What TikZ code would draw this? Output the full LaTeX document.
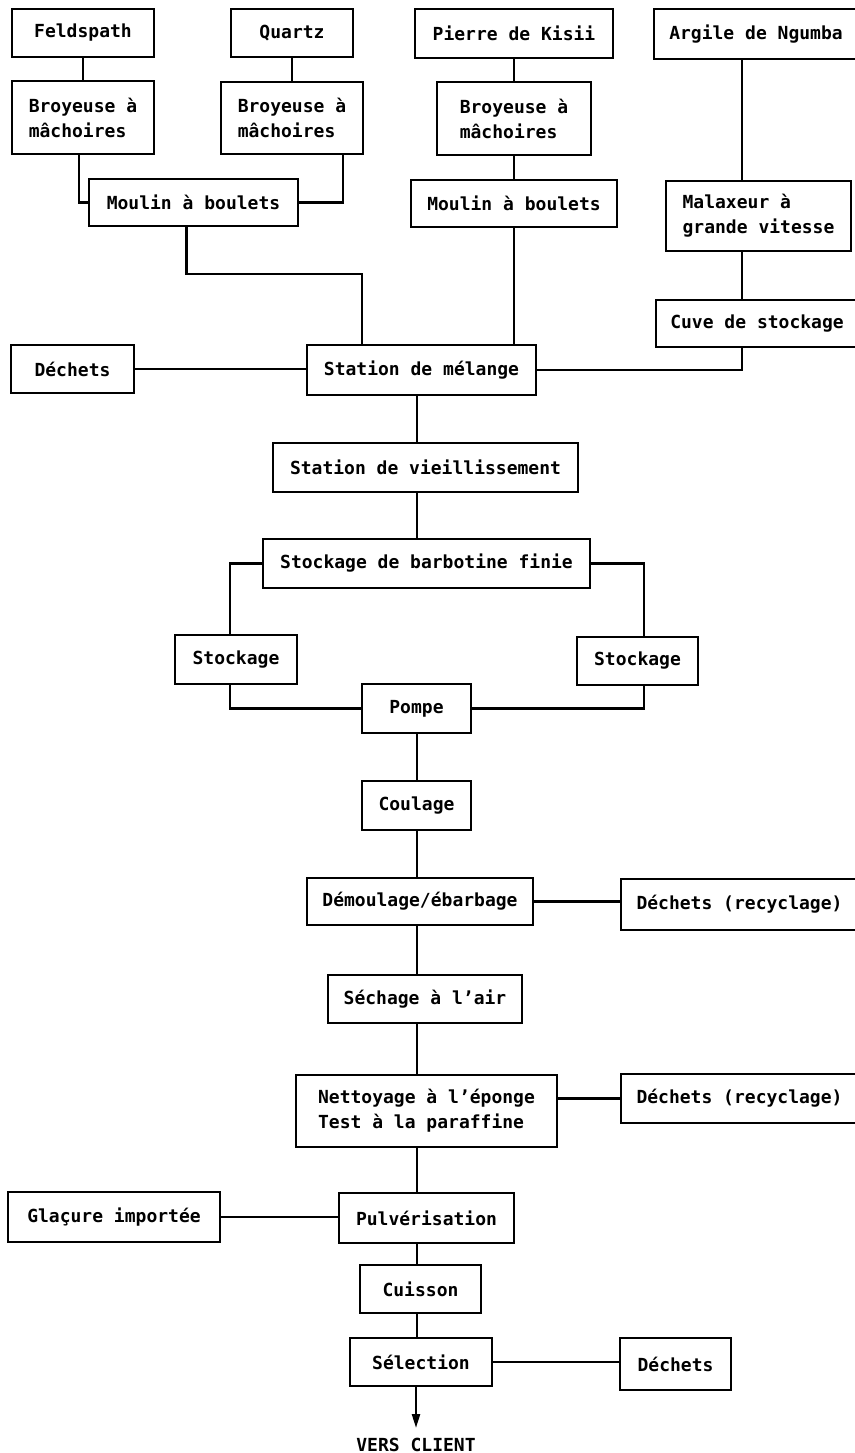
\documentclass[tikz,border=0pt]{standalone}
\usepackage{fontspec}
\setmonofont{DejaVu Sans Mono}
\usetikzlibrary{arrows.meta,calc}
\newcommand{\bx}[6]{\node[box,minimum width={(#4-#2)*1pt},minimum height={(#5-#3)*1pt}] (#1) at ({(#2+#4)/2},{(#3+#5)/2}) {#6};}
\begin{document}
\begin{tikzpicture}[x=1pt,y=-1pt,
  box/.style={draw,line width=2.4pt,inner sep=0pt,align=left,font=\fontsize{18}{25}\selectfont\ttfamily\bfseries},
  conn/.style={line width=2.4pt},
  lbl/.style={inner sep=0pt,font=\fontsize{18}{25}\selectfont\ttfamily\bfseries}]
\fill[white] (0,0) rectangle (854,1453);
\useasboundingbox (0,0) rectangle (854,1453);
% top row
\bx{feld}{12}{9}{154}{57}{Feldspath}
\bx{quartz}{231}{9}{353}{57}{Quartz}
\bx{pierre}{415}{9}{613}{58}{Pierre de Kisii}
\bx{argile}{654}{9}{858}{59}{Argile de Ngumba}
\bx{broy1}{12}{81}{154}{154}{Broyeuse à\\mâchoires}
\bx{broy2}{221}{82}{363}{154}{Broyeuse à\\mâchoires}
\bx{broy3}{437}{82}{591}{155}{Broyeuse à\\mâchoires}
\bx{moulin1}{89}{179}{298}{226}{Moulin à boulets}
\bx{moulin2}{411}{180}{617}{227}{Moulin à boulets}
\bx{malax}{666}{181}{851}{251}{Malaxeur à\\grande vitesse}
\bx{cuve}{656}{300}{858}{347}{Cuve de stockage}
\bx{dech1}{11}{345}{134}{393}{Déchets}
\bx{station}{307}{345}{536}{395}{Station de mélange}
\bx{vieil}{273}{443}{578}{492}{Station de vieillissement}
\bx{stock}{263}{539}{590}{588}{Stockage de barbotine finie}
\bx{stockL}{175}{635}{297}{684}{Stockage}
\bx{stockR}{577}{637}{698}{685}{Stockage}
\bx{pompe}{362}{684}{471}{733}{Pompe}
\bx{coulage}{362}{781}{471}{830}{Coulage}
\bx{demoul}{307}{878}{533}{925}{Démoulage/ébarbage}
\bx{dechR1}{621}{879}{858}{930}{Déchets (recyclage)}
\bx{sechage}{328}{975}{522}{1023}{Séchage à l’air}
\bx{nett}{296}{1075}{557}{1147}{Nettoyage à l’éponge\\Test à la paraffine}
\bx{dechR2}{621}{1074}{858}{1123}{Déchets (recyclage)}
\bx{glac}{8}{1192}{220}{1242}{Glaçure importée}
\bx{pulv}{339}{1193}{514}{1243}{Pulvérisation}
\bx{cuisson}{360}{1265}{481}{1313}{Cuisson}
\bx{select}{350}{1338}{492}{1386}{Sélection}
\bx{dech3}{620}{1338}{731}{1390}{Déchets}
\node[lbl,anchor=base] (client) at (416,1451) {VERS CLIENT};
\coordinate (spine) at (417,0);
\coordinate (arrEnd) at (416,1428);
% connectors
\draw[conn] (feld) -- (broy1);
\draw[conn] (quartz) -- (broy2);
\draw[conn] ([xshift=-4pt]broy1.south) |- (moulin1.west);
\draw[conn] ([xshift=-21pt]broy2.south east) |- (moulin1.east);
\draw[conn] ([xshift=-7pt]moulin1.south) -- ++(0,47) -| ([xshift=-59.5pt]station.north);
\draw[conn] (pierre) -- (broy3);
\draw[conn] (broy3) -- (moulin2);
\draw[conn] (moulin2.south) -- (moulin2.south |- station.north);
\draw[conn] ([xshift=-14pt]argile.south) -- ([xshift=-14pt]argile.south |- malax.north);
\draw[conn] ([xshift=-16.5pt]malax.south) -- ([xshift=-16.5pt]malax.south |- cuve.north);
\draw[conn] ([xshift=-15pt]cuve.south) |- (station.east);
\draw[conn] (dech1.east) -- (dech1.east -| station.west);
\foreach \a/\b in {station/vieil, vieil/stock, pompe/coulage, coulage/demoul, demoul/sechage, sechage/nett, nett/pulv, pulv/cuisson, cuisson/select}
  \draw[conn] (\a.south -| spine) -- (\b.north -| spine);
\draw[conn] (stock.west) -| ([xshift=-6pt]stockL.north);
\draw[conn] (stock.east) -| ([xshift=6.5pt]stockR.north);
\draw[conn] ([xshift=-6pt]stockL.south) |- (pompe.west);
\draw[conn] ([xshift=6.5pt]stockR.south) |- (pompe.east);
\draw[conn] (demoul.east) -- (demoul.east -| dechR1.west);
\draw[conn] (dechR2.west) -- (dechR2.west -| nett.east);
\draw[conn] (glac.east) -- (glac.east -| pulv.west);
\draw[conn] (select.east) -- (select.east -| dech3.west);
\draw[conn,-{Triangle[width=8pt,length=14pt]}] (select.south -| arrEnd) -- (arrEnd);
\end{tikzpicture}
\end{document}
